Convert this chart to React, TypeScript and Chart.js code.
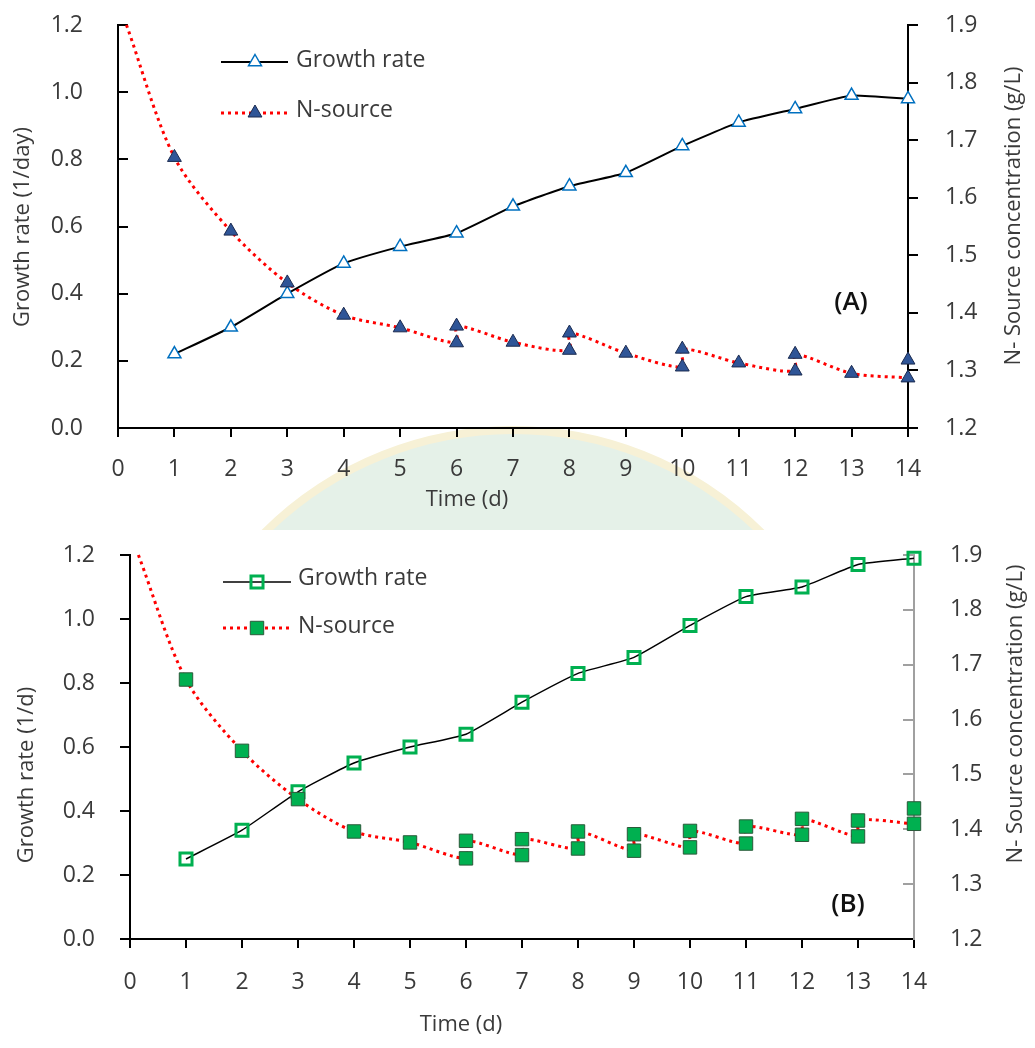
import React, { useEffect, useRef } from "react";
import { Chart, registerables } from "chart.js";

Chart.register(...registerables);

// ---------- data ----------
const days = [1, 2, 3, 4, 5, 6, 7, 8, 9, 10, 11, 12, 13, 14];
const dayTicks = [0, 1, 2, 3, 4, 5, 6, 7, 8, 9, 10, 11, 12, 13, 14];
const growthTicks = [0, 0.2, 0.4, 0.6, 0.8, 1.0, 1.2];
const nSourceTicks = [1.2, 1.3, 1.4, 1.5, 1.6, 1.7, 1.8, 1.9];

// start of the N-source curve (no marker)
const nStartDay = 0.15;
const nStartValue = 1.9;

// Panel A
const growthA = [0.22, 0.3, 0.4, 0.49, 0.54, 0.58, 0.66, 0.72, 0.76, 0.84, 0.91, 0.95, 0.99, 0.98];
const nUpperA = [1.67, 1.542, 1.452, 1.396, 1.374, 1.377, 1.349, 1.365, 1.33, 1.337, 1.313, 1.328, 1.295, 1.318];
const nLowerA: (number | null)[] = [null, null, null, null, null, 1.348, null, 1.335, null, 1.306, null, 1.299, null, 1.287];

// Panel B
const growthB = [0.25, 0.34, 0.46, 0.55, 0.6, 0.64, 0.74, 0.83, 0.88, 0.98, 1.07, 1.1, 1.17, 1.19];
const nUpperB = [1.673, 1.543, 1.455, 1.396, 1.376, 1.379, 1.382, 1.396, 1.391, 1.397, 1.405, 1.419, 1.416, 1.438];
const nLowerB: (number | null)[] = [null, null, null, null, null, 1.347, 1.353, 1.365, 1.361, 1.367, 1.374, 1.39, 1.387, 1.41];

const legendLabels = ["Growth rate", "N-source"];
const xTitle = "Time (d)";
const rightTitle = "N- Source concentration (g/L)";
const leftTitleA = "Growth rate (1/day)";
const leftTitleB = "Growth rate (1/d)";
const panelLabelA = "(A)";
const panelLabelB = "(B)";

// ---------- helpers ----------
const FONT = "'Open Sans', 'Noto Sans', sans-serif";
const TEXT = "#3a3a3a";

function growthPoints(vals: number[]) {
  return days.map((d, i) => ({ x: d, y: vals[i] }));
}
function markerPoints(upper: number[], lower: (number | null)[]) {
  const pts: { x: number; y: number }[] = [];
  days.forEach((d, i) => {
    pts.push({ x: d, y: upper[i] });
    const lo = lower[i];
    if (lo != null) pts.push({ x: d, y: lo });
  });
  return pts;
}
function linePoints(upper: number[], lower: (number | null)[]) {
  const pts: { x: number; y: number }[] = [{ x: nStartDay, y: nStartValue }];
  days.forEach((d, i) => {
    const lo = lower[i];
    if (lo == null) pts.push({ x: d, y: upper[i] });
    else {
      pts.push({ x: d, y: Math.min(lo, upper[i]) });
      if (i < days.length - 1) pts.push({ x: d, y: Math.max(lo, upper[i]) });
    }
  });
  return pts;
}

function drawTri(ctx: CanvasRenderingContext2D, x: number, y: number, r: number) {
  ctx.beginPath();
  ctx.moveTo(x, y - r);
  ctx.lineTo(x + 0.866 * r, y + 0.5 * r);
  ctx.lineTo(x - 0.866 * r, y + 0.5 * r);
  ctx.closePath();
}
function drawSq(ctx: CanvasRenderingContext2D, x: number, y: number, r: number) {
  const s = r * Math.SQRT1_2;
  ctx.beginPath();
  ctx.rect(x - s, y - s, 2 * s, 2 * s);
}

type Spec = {
  height: number;
  plotLeft: number;
  plotRight: number;
  plotTop: number;
  plotBottom: number;
  growth: number[];
  nUpper: number[];
  nLower: (number | null)[];
  marker: "triangle" | "rect";
  growthStroke: string;
  growthFill: string;
  growthRadius: number;
  growthBorderW: number;
  growthLineW: number;
  nFill: string;
  nStroke: string;
  nRadius: number;
  leftTickLen: number;
  rightTickLen: number;
  leftPad: number;
  rightPad: number;
  xPad: number;
  rightColor: string;
  leftTitle: string;
  leftTitlePos: [number, number];
  rightTitlePos: [number, number];
  xTitlePos: [number, number];
  legend: { x0: number; x1: number; xm: number; xt: number; y1: number; y2: number; ty1: number; ty2: number };
  label: string;
  labelPos: [number, number];
  watermark: boolean;
};

function makeConfig(s: Spec): any {
  const tickFont = { family: FONT, size: 23 };
  const decor = {
    id: "decor",
    beforeDraw(chart: any) {
      if (!s.watermark) return;
      const ctx = chart.ctx as CanvasRenderingContext2D;
      ctx.save();
      ctx.beginPath();
      ctx.arc(513, 782, 352, 0, Math.PI * 2);
      ctx.fillStyle = "#e5f1e8";
      ctx.fill();
      ctx.lineWidth = 8;
      ctx.strokeStyle = "#f7f1d6";
      ctx.stroke();
      ctx.restore();
    },
    afterDraw(chart: any) {
      const ctx = chart.ctx as CanvasRenderingContext2D;
      ctx.save();
      ctx.fillStyle = TEXT;
      ctx.font = `22px ${FONT}`;
      ctx.textAlign = "center";
      ctx.textBaseline = "middle";
      // x title
      ctx.fillText(xTitle, s.xTitlePos[0], s.xTitlePos[1]);
      // left title
      ctx.save();
      ctx.translate(s.leftTitlePos[0], s.leftTitlePos[1]);
      ctx.rotate(-Math.PI / 2);
      ctx.fillText(s.leftTitle, 0, 0);
      ctx.restore();
      // right title
      ctx.save();
      ctx.translate(s.rightTitlePos[0], s.rightTitlePos[1]);
      ctx.rotate(-Math.PI / 2);
      ctx.fillText(rightTitle, 0, 0);
      ctx.restore();
      // panel label
      ctx.font = `600 26px ${FONT}`;
      ctx.fillStyle = "#111";
      ctx.fillText(s.label, s.labelPos[0], s.labelPos[1]);

      // legend
      const L = s.legend;
      ctx.lineWidth = s.growthLineW;
      ctx.strokeStyle = "#000";
      ctx.setLineDash([]);
      ctx.beginPath();
      ctx.moveTo(L.x0, L.y1);
      ctx.lineTo(L.x1, L.y1);
      ctx.stroke();
      if (s.marker === "triangle") drawTri(ctx, L.xm, L.y1, s.growthRadius);
      else drawSq(ctx, L.xm, L.y1, s.growthRadius);
      ctx.fillStyle = s.growthFill;
      ctx.fill();
      ctx.lineWidth = s.growthBorderW;
      ctx.strokeStyle = s.growthStroke;
      ctx.stroke();

      ctx.lineWidth = 3;
      ctx.strokeStyle = "#ff0000";
      ctx.setLineDash([3, 4]);
      ctx.beginPath();
      ctx.moveTo(L.x0, L.y2);
      ctx.lineTo(L.x1, L.y2);
      ctx.stroke();
      ctx.setLineDash([]);
      if (s.marker === "triangle") drawTri(ctx, L.xm, L.y2, s.nRadius);
      else drawSq(ctx, L.xm, L.y2, s.nRadius);
      ctx.fillStyle = s.nFill;
      ctx.fill();
      ctx.lineWidth = 1;
      ctx.strokeStyle = s.nStroke;
      ctx.stroke();

      ctx.fillStyle = TEXT;
      ctx.font = `23px ${FONT}`;
      ctx.textAlign = "left";
      ctx.fillText(legendLabels[0], L.xt, L.ty1);
      ctx.fillText(legendLabels[1], L.xt, L.ty2);
      ctx.restore();
    },
  };

  const noVPad = (sc: any) => {
    sc.paddingTop = 0;
    sc.paddingBottom = 0;
  };

  return {
    type: "line",
    data: {
      datasets: [
        {
          label: legendLabels[1],
          data: markerPoints(s.nUpper, s.nLower),
          yAxisID: "y1",
          showLine: false,
          pointStyle: s.marker,
          pointRadius: s.nRadius,
          pointBackgroundColor: s.nFill,
          pointBorderColor: s.nStroke,
          pointBorderWidth: 1,
          order: 0,
          clip: false,
        },
        {
          label: legendLabels[0],
          data: growthPoints(s.growth),
          yAxisID: "y",
          borderColor: "#000",
          borderWidth: s.growthLineW,
          pointStyle: s.marker,
          pointRadius: s.growthRadius,
          pointBorderColor: s.growthStroke,
          pointBackgroundColor: s.growthFill,
          pointBorderWidth: s.growthBorderW,
          tension: 0.15,
          order: 1,
          clip: false,
        },
        {
          label: "N-source curve",
          data: linePoints(s.nUpper, s.nLower),
          yAxisID: "y1",
          borderColor: "#ff0000",
          borderWidth: 3,
          borderDash: [3, 4],
          pointRadius: 0,
          tension: 0.3,
          order: 2,
          clip: false,
        },
      ],
    },
    options: {
      responsive: false,
      animation: false,
      devicePixelRatio: 1,
      events: [],
      layout: { padding: { top: s.plotTop, left: 0, right: 0, bottom: 0 } },
      plugins: { legend: { display: false }, tooltip: { enabled: false }, title: { display: false } },
      scales: {
        x: {
          type: "linear",
          position: "bottom",
          min: 0,
          max: 14,
          afterBuildTicks: (sc: any) => {
            sc.ticks = dayTicks.map((v) => ({ value: v }));
          },
          afterFit: (sc: any) => {
            sc.height = s.height - s.plotBottom;
            sc.paddingLeft = 0;
            sc.paddingRight = 0;
          },
          ticks: { font: tickFont, color: TEXT, padding: s.xPad, maxRotation: 0, autoSkip: false, callback: (v: number) => String(v) },
          grid: { drawOnChartArea: false, drawTicks: true, tickLength: 9, color: "#000", lineWidth: 2 },
          border: { display: true, color: "#000", width: 2 },
        },
        y: {
          type: "linear",
          position: "left",
          min: 0,
          max: 1.2,
          afterBuildTicks: (sc: any) => {
            sc.ticks = growthTicks.map((v) => ({ value: v }));
          },
          afterFit: (sc: any) => {
            sc.width = s.plotLeft;
            noVPad(sc);
          },
          ticks: { font: tickFont, color: TEXT, padding: s.leftPad, autoSkip: false, callback: (v: number) => v.toFixed(1) },
          grid: { drawOnChartArea: false, drawTicks: true, tickLength: s.leftTickLen, color: "#000", lineWidth: 2 },
          border: { display: true, color: "#000", width: 2 },
        },
        y1: {
          type: "linear",
          position: "right",
          min: 1.2,
          max: 1.9,
          afterBuildTicks: (sc: any) => {
            sc.ticks = nSourceTicks.map((v) => ({ value: v }));
          },
          afterFit: (sc: any) => {
            sc.width = 1035 - s.plotRight;
            noVPad(sc);
          },
          ticks: { font: tickFont, color: TEXT, padding: s.rightPad, autoSkip: false, callback: (v: number) => v.toFixed(1) },
          grid: { drawOnChartArea: false, drawTicks: true, tickLength: s.rightTickLen, color: s.rightColor, lineWidth: 2 },
          border: { display: true, color: s.rightColor, width: 2 },
        },
      },
    },
    plugins: [decor],
  };
}

const specA: Spec = {
  height: 530,
  plotLeft: 118,
  plotRight: 908,
  plotTop: 25,
  plotBottom: 428,
  growth: growthA,
  nUpper: nUpperA,
  nLower: nLowerA,
  marker: "triangle",
  growthStroke: "#0070c0",
  growthFill: "#ffffff",
  growthRadius: 7.5,
  growthBorderW: 1.5,
  growthLineW: 2,
  nFill: "#2f5597",
  nStroke: "#1a2a4f",
  nRadius: 8,
  leftTickLen: -10,
  rightTickLen: 10,
  leftPad: 45,
  rightPad: 27,
  xPad: 19,
  rightColor: "#000",
  leftTitle: leftTitleA,
  leftTitlePos: [23, 227],
  rightTitlePos: [1014, 216],
  xTitlePos: [467, 500],
  legend: { x0: 221, x1: 288, xm: 255, xt: 296, y1: 62, y2: 113, ty1: 60, ty2: 110 },
  label: panelLabelA,
  labelPos: [851, 303],
  watermark: true,
};

const specB: Spec = {
  height: 518,
  plotLeft: 130,
  plotRight: 914,
  plotTop: 25,
  plotBottom: 409,
  growth: growthB,
  nUpper: nUpperB,
  nLower: nLowerB,
  marker: "rect",
  growthStroke: "#00b050",
  growthFill: "rgba(255,255,255,0)",
  growthRadius: 8.5,
  growthBorderW: 3,
  growthLineW: 1.5,
  nFill: "#00b050",
  nStroke: "#2a5a3a",
  nRadius: 9.5,
  leftTickLen: 10,
  rightTickLen: -11,
  leftPad: 25,
  rightPad: 47,
  xPad: 21,
  rightColor: "#a0a0a0",
  leftTitle: leftTitleB,
  leftTitlePos: [27, 245],
  rightTitlePos: [1016, 184],
  xTitlePos: [461, 495],
  legend: { x0: 223, x1: 291, xm: 257, xt: 298, y1: 52, y2: 98, ty1: 48, ty2: 96 },
  label: panelLabelB,
  labelPos: [848, 375],
  watermark: false,
};

function Panel({ spec, top }: { spec: Spec; top: number }) {
  const ref = useRef<HTMLCanvasElement>(null);
  useEffect(() => {
    if (!ref.current) return;
    const chart = new Chart(ref.current, makeConfig(spec));
    return () => chart.destroy();
  }, [spec]);
  return (
    <canvas
      ref={ref}
      width={1035}
      height={spec.height}
      style={{ position: "absolute", left: 0, top, width: 1035, height: spec.height, display: "block" }}
    />
  );
}

export default function App() {
  return (
    <div style={{ position: "absolute", left: 0, top: 0, width: 1035, height: 1048, background: "#fff", overflow: "hidden" }}>
      <Panel spec={specA} top={0} />
      <Panel spec={specB} top={530} />
    </div>
  );
}
